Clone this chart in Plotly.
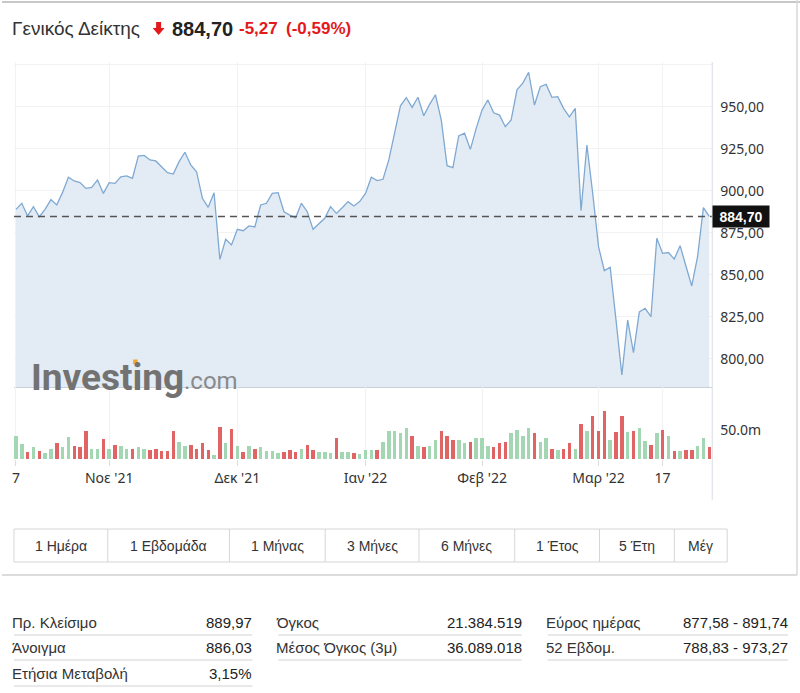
import plotly.graph_objects as go
import pandas as pd

W, H = 800, 693

# ---------------- data ----------------
holidays = ["2021-10-28", "2021-12-24", "2022-01-06", "2022-03-07", "2022-03-25"]

close = [
    888.9, 892.5, 885.0, 890.5, 884.5, 888.9, 894.7, 891.5, 899.0, 908.0,
    905.8, 904.8, 901.4, 902.0, 906.4, 898.4, 904.8, 904.4, 908.3, 908.8,
    907.4, 920.6, 921.0, 918.3, 917.7, 914.3, 910.7, 909.9, 917.3, 922.9,
    915.3, 911.3, 895.5, 890.1, 898.8, 859.1, 871.1, 867.7, 877.0, 876.2,
    879.0, 878.4, 891.5, 892.5, 898.4, 898.8, 887.5, 885.5, 883.9, 892.5,
    887.5, 877.0, 880.6, 883.6, 890.5, 886.5, 889.9, 893.5, 890.9, 893.5,
    898.4, 908.0, 906.0, 906.8, 918.3, 935.0, 950.5, 955.4, 949.6, 955.6,
    944.6, 951.4, 957.1, 942.1, 914.9, 913.7, 932.6, 934.2, 924.6, 937.1,
    948.0, 954.0, 946.4, 945.0, 938.1, 942.1, 960.0, 964.0, 970.5, 951.0,
    961.9, 963.3, 955.6, 956.0, 949.0, 944.0, 949.0, 888.1, 927.2, 898.4,
    866.7, 852.4, 854.4, 823.0, 790.3, 823.0, 803.6, 827.9, 830.0, 825.0,
    871.7, 862.7, 863.2, 859.3, 867.3, 855.2, 843.3, 860.7, 889.9, 884.7,
]

volume_m = [
    40, 26, 12.6, 20, 14, 10, 18, 27, 21, 38,
    22, 21, 49, 17, 17, 34, 17, 25, 23, 17,
    18, 20, 17, 15.5, 18, 14, 14, 49, 29, 23,
    25, 18, 27, 15.5, 7, 56, 27, 51, 22, 11.5,
    22, 18, 20, 14, 14, 11, 12.6, 15.5, 12.6, 17,
    25, 15.5, 11.5, 11.5, 10, 36, 11.5, 11.5, 10, 8.6,
    15.5, 15.5, 15.5, 29, 49, 49, 44, 53, 40, 23,
    20, 23, 32, 49, 40, 32, 33, 27, 29, 37,
    37, 23, 20, 27, 29, 45, 50, 40, 53, 44,
    29, 37, 18, 15.5, 18, 27, 18, 61, 49, 75,
    49, 83, 33, 46, 75, 46, 49, 53, 31, 25,
    44, 50, 40, 14, 14, 15.5, 15.5, 23, 36, 20,
]

all_days = [d.strftime("%Y-%m-%d") for d in pd.bdate_range("2021-10-07", "2022-04-15")]
dates = [d for d in all_days if d not in holidays][:len(close)]

tick_dates = ["2021-10-07", "2021-11-01", "2021-12-01", "2022-01-03",
              "2022-02-01", "2022-03-01", "2022-03-17"]
tick_text = ["7", "Νοε '21", "Δεκ '21", "Ιαν '22", "Φεβ '22", "Μαρ '22", "17"]

price_ticks = [800, 825, 850, 875, 900, 925, 950, 975]
price_tick_text = ["800,00", "825,00", "850,00", "875,00", "900,00", "925,00", "950,00", ""]

last_value = 884.70
title_name = "Γενικός Δείκτης"
title_value = "884,70"
title_change = "-5,27"
title_pct = "(-0,59%)"

buttons = ["1 Ημέρα", "1 Εβδομάδα", "1 Μήνας", "3 Μήνες", "6 Μήνες", "1 Έτος", "5 Έτη", "Μέγ"]

table_col1 = [("Πρ. Κλείσιμο", "889,97"), ("Άνοιγμα", "886,03"), ("Ετήσια Μεταβολή", "3,15%")]
table_col2 = [("Όγκος", "21.384.519"), ("Μέσος Όγκος (3μ)", "36.089.018")]
table_col3 = [("Εύρος ημέρας", "877,58 - 891,74"), ("52 Εβδομ.", "788,83 - 973,27")]

# ---------------- helpers ----------------
def px(x):
    return x / W

def py(y):
    return 1 - y / H

GREEN = "#a3d6b3"
RED = "#e06464"
LINE = "#7fa9d2"
FILL = "rgba(224,234,244,0.9)"
GRID = "#f2f2f2"
TXT = "#333333"
NARROW = "Liberation Sans Narrow, Arial Narrow, Liberation Sans, Arial, sans-serif"
SANS = "Liberation Sans, Arial, sans-serif"
TICKF = "Noto Sans, Open Sans, sans-serif"

vol_colors = [GREEN if i == 0 or close[i] >= close[i - 1] else RED for i in range(len(close))]

# plot geometry (pixels)
X0, X1 = 12, 712
P_TOP, P_BOT = 62, 387
V_BOT = 459
n = len(close)
step = (709 - 14) / (n - 1)
r0 = -(14 - X0) / step
r1 = r0 + (X1 - X0) / step
y_per_pt = 1.68
y_lo = 950 - (P_BOT - 106.7) / y_per_pt
y_hi = 950 + (106.7 - P_TOP) / y_per_pt
v_hi = (V_BOT - P_BOT) / 0.58 * 1e6

fig = go.Figure()
fig.add_trace(go.Scatter(
    x=dates, y=close, mode="lines", line=dict(color=LINE, width=1.3),
    fill="tozeroy", fillcolor=FILL, xaxis="x", yaxis="y", hoverinfo="skip",
))
fig.add_trace(go.Bar(
    x=dates, y=[v * 1e6 for v in volume_m], marker=dict(color=vol_colors, line=dict(width=0)),
    width=0.6, xaxis="x2", yaxis="y2", hoverinfo="skip",
))

shapes = []
annotations = []

# dashed last-value line
shapes.append(dict(type="line", xref="paper", yref="y", x0=px(X0), x1=px(X1),
                   y0=last_value, y1=last_value, line=dict(color="#555555", width=1.5, dash="7px,5px")))
# right axis line
shapes.append(dict(type="line", xref="paper", yref="paper", x0=px(X1), x1=px(X1),
                   y0=py(P_TOP), y1=py(500), line=dict(color="#d9dde2", width=1)))
# card borders
shapes.append(dict(type="line", xref="paper", yref="paper", x0=0, x1=1, y0=py(2), y1=py(2),
                   line=dict(color="#c8c8c8", width=2)))
shapes.append(dict(type="line", xref="paper", yref="paper", x0=px(797), x1=px(797), y0=py(0), y1=py(575),
                   line=dict(color="#d8d8d8", width=1.5)))
shapes.append(dict(type="line", xref="paper", yref="paper", x0=0, x1=px(797), y0=py(575), y1=py(575),
                   line=dict(color="#d0d0d0", width=1.5)))

# down arrow in title
ax = [(154.5, 22), (159.5, 22), (159.5, 28), (163, 28), (157, 35), (151, 28), (154.5, 28)]
path = "M " + " L ".join(f"{px(a):.5f},{py(b):.5f}" for a, b in ax) + " Z"
shapes.append(dict(type="path", xref="paper", yref="paper", path=path,
                   fillcolor="#e3191c", line=dict(width=0)))

# title texts
annotations += [
    dict(x=px(8), y=py(29), text=title_name, font=dict(family=SANS, size=19, color=TXT)),
    dict(x=px(168), y=py(29), text=f"<b>{title_value}</b>", font=dict(family=SANS, size=20, color="#222222")),
    dict(x=px(236), y=py(29), text=f"<b>{title_change}</b>", font=dict(family=SANS, size=17, color="#e3191c")),
    dict(x=px(283), y=py(29), text=f"<b>{title_pct}</b>", font=dict(family=SANS, size=17, color="#e3191c")),
]

# last value label box
annotations.append(dict(x=px(X1), y=last_value, xref="paper", yref="y", xanchor="left", yanchor="middle",
                        text=f"<b>{title_value}</b>", font=dict(family=SANS, size=14, color="white"),
                        bgcolor="#111111", width=54, height=19, showarrow=False))

# watermark
annotations.append(dict(x=px(27), y=py(377), text="<b>Investing</b>",
                        font=dict(family="Roboto, Open Sans, sans-serif", size=37, color="#727272")))
annotations.append(dict(x=px(180), y=py(381), text=".com",
                        font=dict(family="Roboto, Open Sans, sans-serif", size=24, color="#8a8a8a")))
shapes.append(dict(type="rect", xref="paper", yref="paper", x0=px(131.5), x1=px(136), y0=py(364), y1=py(359.5),
                   fillcolor="#f4a52a", line=dict(width=0)))

# buttons
BT, BB = 529, 562
edges = [12, 106, 228, 324, 418, 514, 599, 674, 727]
shapes.append(dict(type="rect", xref="paper", yref="paper", x0=px(edges[0]), x1=px(edges[-1]),
                   y0=py(BB), y1=py(BT), line=dict(color="#d6d6d6", width=1)))
for e in edges[1:-1]:
    shapes.append(dict(type="line", xref="paper", yref="paper", x0=px(e), x1=px(e), y0=py(BB), y1=py(BT),
                       line=dict(color="#d6d6d6", width=1)))
for i, b in enumerate(buttons):
    cx = (edges[i] + edges[i + 1]) / 2
    annotations.append(dict(x=px(cx), y=py(545.5), text=b, xanchor="center",
                            font=dict(family=NARROW, size=14, color=TXT)))

# stats table
rows_y = [622, 647, 673]
cols = [(table_col1, 12, 251), (table_col2, 277, 521), (table_col3, 547, 788)]
for data, lx, rx in cols:
    for r, (lab, val) in enumerate(data):
        yy = rows_y[r]
        annotations.append(dict(x=px(lx - 4), y=py(yy), text=lab, xanchor="left",
                                font=dict(family=NARROW, size=15, color=TXT)))
        annotations.append(dict(x=px(rx + 2), y=py(yy), text=val, xanchor="right",
                                font=dict(family=NARROW, size=15, color="#222222")))
        shapes.append(dict(type="line", xref="paper", yref="paper", x0=px(lx), x1=px(rx),
                           y0=py(yy + 13), y1=py(yy + 13), line=dict(color="#e2e2e2", width=1.5)))

for a in annotations:
    a.setdefault("xref", "paper")
    a.setdefault("yref", "paper")
    a.setdefault("xanchor", "left")
    a.setdefault("yanchor", "middle")
    a.setdefault("showarrow", False)

fig.update_layout(
    width=W, height=H, margin=dict(l=0, r=0, t=0, b=0),
    paper_bgcolor="white", plot_bgcolor="white", showlegend=False, bargap=0,
    xaxis=dict(domain=[px(X0), px(X1)], type="category", range=[r0, r1], anchor="y",
               tickvals=tick_dates, showticklabels=False, showgrid=True, gridcolor=GRID,
               showline=True, linecolor="#c9d0d8", linewidth=1, zeroline=False, fixedrange=True),
    yaxis=dict(domain=[py(P_BOT), py(P_TOP)], range=[y_lo, y_hi], side="right", anchor="x",
               tickvals=price_ticks, ticktext=price_tick_text, showgrid=True, gridcolor=GRID,
               zeroline=False, showline=False, ticks="", ticklabelstandoff=7,
               tickfont=dict(family=TICKF, size=14, color=TXT)),
    xaxis2=dict(domain=[px(X0), px(X1)], type="category", range=[r0, r1], anchor="y2",
                tickvals=tick_dates, ticktext=tick_text, showgrid=True, gridcolor=GRID,
                ticks="outside", ticklen=6, tickcolor="#dddddd", showline=False, zeroline=False,
                tickfont=dict(family=TICKF, size=14, color=TXT), tickangle=0),
    yaxis2=dict(domain=[py(V_BOT), py(P_BOT)], range=[0, v_hi], side="right", anchor="x2",
                tickvals=[50e6], ticktext=["50.0m"], showgrid=False, zeroline=False, ticks="",
                ticklabelstandoff=7, tickfont=dict(family=TICKF, size=14, color=TXT)),
    shapes=shapes, annotations=annotations,
)

fig.write_html("out.html")
